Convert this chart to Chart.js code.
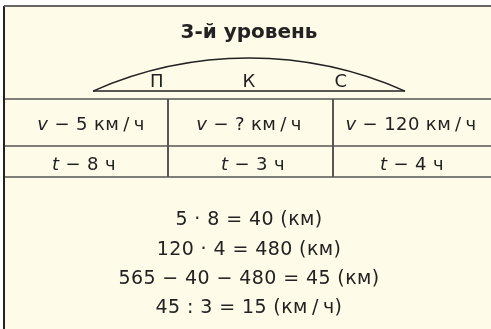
<!DOCTYPE html>
<html>
<head>
<meta charset="utf-8">
<script src="https://cdn.jsdelivr.net/npm/chart.js@4"></script>
<style>
  body { margin: 0; background: #fff; }
  #sheet { display: block; }
</style>
</head>
<body>
<canvas id="sheet" width="491" height="329"></canvas>
<script>
// -----------------------------
// DATA
// -----------------------------
const titleText = '3-й уровень';
const parts = ['П', 'К', 'С'];
const speeds = ['5', '?', '120'];
const times = ['8', '3', '4'];
const solution = [
    '5 · 8 = 40 (км)',
    '120 · 4 = 480 (км)',
    '565 − 40 − 480 = 45 (км)',
    '45 : 3 = 15 (км\u2009/\u2009ч)'
];

const FONT = '"DejaVu Sans", sans-serif';
const INK = '#222';

// grid lines of the table, as two-point segments
const seg = (x1, y1, x2, y2, color, width) => ({
    data: [{ x: x1, y: y1 }, { x: x2, y: y2 }],
    borderColor: color,
    borderWidth: width,
    pointRadius: 0,
    showLine: true,
    tension: 0
});

// -----------------------------
// PLUGINS
// -----------------------------
const paper = {
    id: 'paper',
    beforeDraw(chart) {
        const { ctx, scales: { x, y } } = chart;
        ctx.save();
        ctx.fillStyle = '#fefbe8';
        ctx.fillRect(x.getPixelForValue(4), y.getPixelForValue(6), 491, 329);
        ctx.restore();
    }
};

function runs(ctx, segs, cx, by, size) {
    // segs: [text, italic]
    let total = 0;
    segs.forEach(s => {
        ctx.font = (s[1] ? 'italic ' : '') + size + 'px ' + FONT;
        total += ctx.measureText(s[0]).width;
    });
    let px = cx - total / 2;
    ctx.textAlign = 'left';
    segs.forEach(s => {
        ctx.font = (s[1] ? 'italic ' : '') + size + 'px ' + FONT;
        ctx.fillText(s[0], px, by);
        px += ctx.measureText(s[0]).width;
    });
}

const sheetText = {
    id: 'sheetText',
    afterDraw(chart) {
        const { ctx, scales: { x, y } } = chart;
        ctx.save();
        ctx.fillStyle = INK;
        ctx.textBaseline = 'alphabetic';

        // title
        ctx.letterSpacing = '0px';
        ctx.font = 'bold 20px ' + FONT;
        ctx.textAlign = 'center';
        ctx.fillText(titleText, x.getPixelForValue(249), y.getPixelForValue(38));

        // arc over the route
        const r = x.getPixelForValue(385) - x.getPixelForValue(0);
        const cx = x.getPixelForValue(249), cy = y.getPixelForValue(443);
        const a = Math.asin(156 / 385);
        ctx.beginPath();
        ctx.strokeStyle = INK;
        ctx.lineWidth = 1.4;
        ctx.arc(cx, cy, r, -Math.PI / 2 - a, -Math.PI / 2 + a);
        ctx.stroke();

        ctx.letterSpacing = '0.4px';

        // parts of the route
        ctx.font = '18px ' + FONT;
        const partX = [157, 249, 341];
        parts.forEach((p, i) => {
            ctx.fillText(p, x.getPixelForValue(partX[i]), y.getPixelForValue(87));
        });

        // rows
        const speedX = [91, 249, 411];
        const timeX = [84, 253, 412];
        speeds.forEach((s, i) => {
            runs(ctx, [['v', true], [' − ' + s + ' км\u2009/\u2009ч', false]],
                x.getPixelForValue(speedX[i]), y.getPixelForValue(130), 18);
        });
        times.forEach((t, i) => {
            runs(ctx, [['t', true], [' − ' + t + ' ч', false]],
                x.getPixelForValue(timeX[i]), y.getPixelForValue(170), 18);
        });

        // solution
        ctx.font = '19px ' + FONT;
        ctx.textAlign = 'center';
        const lineY = [225, 255, 284, 313];
        solution.forEach((line, i) => {
            ctx.fillText(line, x.getPixelForValue(249), y.getPixelForValue(lineY[i]));
        });
        ctx.restore();
    }
};

// -----------------------------
// CHART
// -----------------------------
const ctx = document.getElementById('sheet').getContext('2d');
new Chart(ctx, {
    type: 'scatter',
    data: {
        datasets: [
            seg(4, 6, 491, 6, '#666', 2),
            seg(4, 6, 4, 329, '#222', 2),
            seg(93, 91, 405, 91, INK, 1.4),
            seg(4, 99, 491, 99, '#555', 1.5),
            seg(4, 146, 491, 146, '#555', 1.5),
            seg(4, 177, 491, 177, '#555', 1.5),
            seg(168, 99, 168, 177, '#222', 1.5),
            seg(333, 99, 333, 177, '#222', 1.5)
        ]
    },
    options: {
        responsive: false,
        animation: false,
        devicePixelRatio: 1,
        layout: { padding: 0 },
        plugins: { legend: { display: false }, tooltip: { enabled: false } },
        scales: {
            x: { type: 'linear', min: 0, max: 491, display: false },
            y: { type: 'linear', min: 0, max: 329, reverse: true, display: false }
        }
    },
    plugins: [paper, sheetText]
});
</script>
</body>
</html>
